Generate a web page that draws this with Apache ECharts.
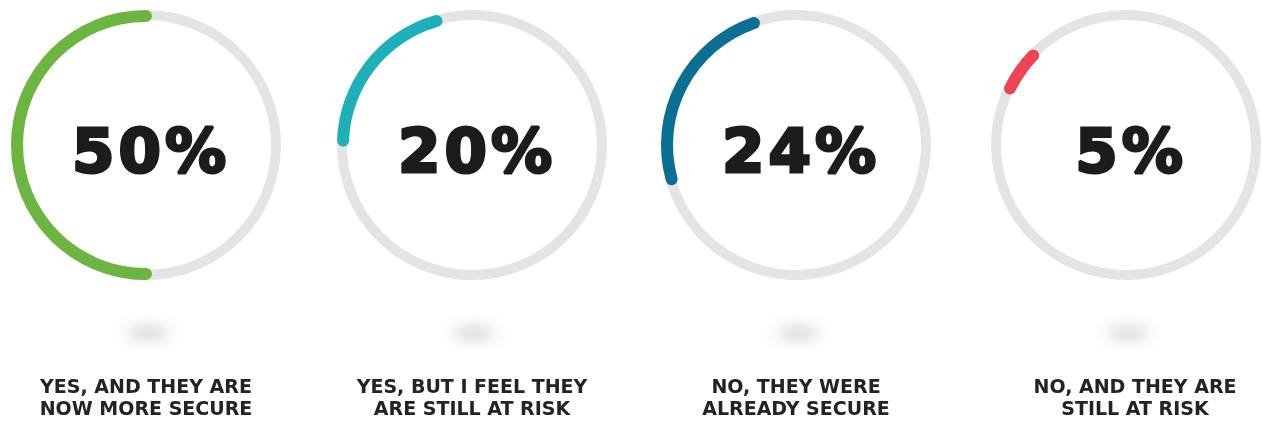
<!DOCTYPE html>
<html>
<head>
<meta charset="utf-8">
<script src="https://cdn.jsdelivr.net/npm/echarts@6/dist/echarts.min.js"></script>
<style>
  html, body { margin: 0; padding: 0; background: #ffffff; }
  #chart { width: 1262px; height: 423px; }
</style>
</head>
<body>
<div id="chart"></div>
<script>
// Survey answers, one ring per answer
const categories = [
  'YES, AND THEY ARE\nNOW MORE SECURE',
  'YES, BUT I FEEL THEY\nARE STILL AT RISK',
  'NO, THEY WERE\nALREADY SECURE',
  'NO, AND THEY ARE\nSTILL AT RISK'
];
const values = [50, 20, 24, 5];
const ringColors = ['#6cb540', '#1eb0b8', '#0b6f93', '#ee4456'];
// where each arc begins (degrees, 90 = 12 o'clock); arcs run counter-clockwise
const startAngles = [90, 106, 109, 136];
const centersX = [146, 472, 796, 1126];
const centerY = 145;
const ringRadius = 135;

const chart = echarts.init(document.getElementById('chart'), null, { renderer: 'canvas' });

// spread the big percentage glyphs apart a little (one rich span per character)
function spaced(v) {
  return (v + '%').split('').map(c => '{c|' + c + '}').join('');
}

const series = values.map((v, i) => ({
  type: 'gauge',
  center: [centersX[i], centerY],
  radius: ringRadius,
  startAngle: startAngles[i],
  endAngle: startAngles[i] + 360,
  clockwise: false,
  min: 0,
  max: 100,
  pointer: { show: false },
  anchor: { show: false },
  axisTick: { show: false },
  splitLine: { show: false },
  axisLabel: { show: false },
  axisLine: { lineStyle: { width: 10, color: [[1, '#e4e4e4']] } },
  progress: {
    show: true,
    width: 12,
    roundCap: true,
    itemStyle: { color: ringColors[i] }
  },
  title: {
    show: true,
    offsetCenter: [i === 3 ? 9 : 0, 254],
    color: '#232323',
    fontFamily: 'DejaVu Sans',
    fontWeight: 'bold',
    fontSize: 19,
    lineHeight: 22
  },
  detail: {
    show: true,
    offsetCenter: [3, 11],
    formatter: spaced,
    rich: {
      c: {
        color: '#1c1c1c',
        fontFamily: 'DejaVu Sans',
        fontWeight: 'bold',
        fontSize: 61,
        padding: [0, 2],
        textBorderColor: '#1c1c1c',
        textBorderWidth: 3
      }
    }
  },
  data: [{ value: v, name: categories[i] }]
}));

// soft grey shadow beneath each ring: the ellipse itself sits off-canvas,
// only its blurred shadow lands under the ring
const OFF = 3000;
const shadows = centersX.map(x => ({
  type: 'ellipse',
  shape: { cx: x + 2 + OFF, cy: 333, rx: 22, ry: 4 },
  silent: true,
  style: {
    fill: '#000',
    shadowColor: 'rgba(0,0,0,0.28)',
    shadowBlur: 16,
    shadowOffsetX: -OFF,
    shadowOffsetY: 0
  }
}));

chart.setOption({
  backgroundColor: '#ffffff',
  animation: false,
  graphic: shadows,
  series: series
});
</script>
</body>
</html>
